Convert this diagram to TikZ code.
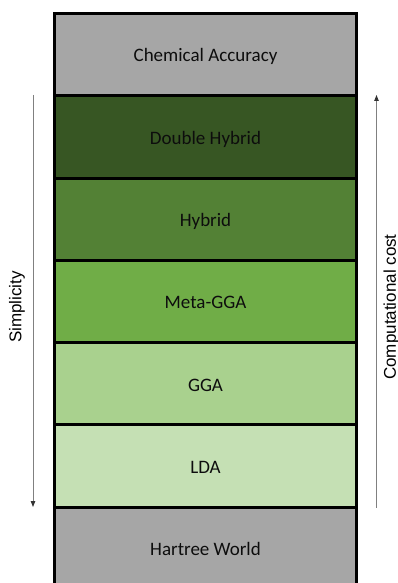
\documentclass[tikz,border=0pt]{standalone}
\usepackage{fontspec}
\setmainfont{Carlito}
\newfontfamily\arialfont{Liberation Sans}
\usetikzlibrary{arrows.meta}
\definecolor{bandgray}{HTML}{A6A6A6}
\definecolor{dhgreen}{HTML}{375623}
\definecolor{hybgreen}{HTML}{538135}
\definecolor{metagreen}{HTML}{70AD47}
\definecolor{ggagreen}{HTML}{A9D18E}
\definecolor{ldagreen}{HTML}{C5E0B4}
\definecolor{arrowgray}{HTML}{808080}
\tikzset{
  band/.style={draw=black, line width=3pt, minimum width=302pt, minimum height=82.3pt,
    inner sep=0pt, text height=16.6pt, text depth=2pt,
    font=\fontsize{19}{21}\selectfont, text=black!95},
  sidelabel/.style={font=\arialfont\fontsize{17}{18}\selectfont, rotate=90, inner sep=0pt},
  sidearrow/.style={draw=arrowgray, line width=0.9pt, -{Triangle[length=6pt,width=4.5pt,color=black!80]}}
}
\begin{document}
\begin{tikzpicture}[x=1pt,y=-1pt]
\useasboundingbox (0,0) rectangle (398,583);
\clip (0,0) rectangle (398,583);
\node[band, fill=bandgray] (chem) at (205.5,54.6) {Chemical Accuracy};
\node[band, fill=dhgreen] (dh) at (205.5,136.9) {Double Hybrid};
\node[band, fill=hybgreen] (hyb) at (205.5,219.2) {Hybrid};
\node[band, fill=metagreen] (meta) at (205.5,301.5) {Meta-GGA};
\node[band, fill=ggagreen] (gga) at (205.5,383.8) {GGA};
\node[band, fill=ldagreen] (lda) at (205.5,466.1) {LDA};
\node[band, fill=bandgray] (hartree) at (205.5,548.4) {Hartree World};
\coordinate (ltop) at (33,95);
\coordinate (lbot) at (33,507);
\coordinate (rbot) at (376.5,507.5);
\coordinate (rtop) at (376.5,95);
\draw[sidearrow] (ltop) -- (lbot);
\draw[sidearrow] (rbot) -- (rtop);
\node[sidelabel] (simp) at (17,307) {Simplicity};
\node[sidelabel] (cost) at (391.5,307) {Computational cost};
\end{tikzpicture}
\end{document}
